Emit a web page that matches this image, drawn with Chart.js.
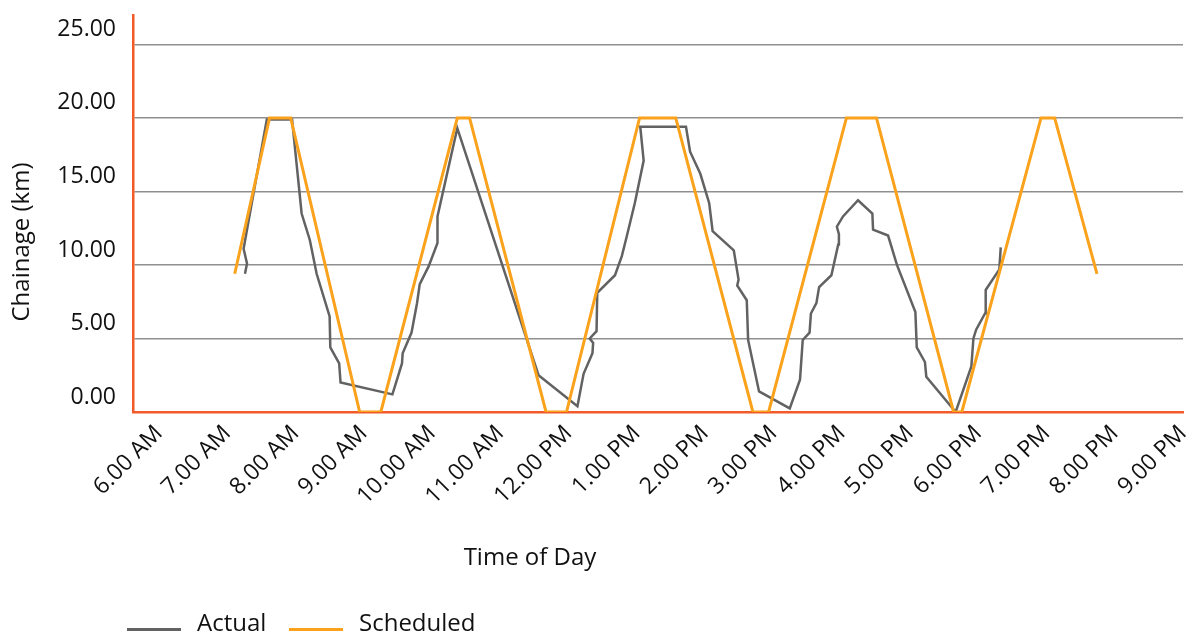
<!DOCTYPE html>
<html lang="en">
<head>
    <meta charset="UTF-8">
    <title>Chainage vs Time of Day</title>
    <script src="https://cdn.jsdelivr.net/npm/chart.js"></script>
    <style>
        body { margin: 0; background: #fff; }
    </style>
</head>
<body>
    <canvas id="chainageChart" width="1187" height="632"></canvas>

    <script>
        // Hour ticks along the x axis and their labels
        const tickHours = [6, 7, 8, 9, 10, 11, 12, 13, 14, 15, 16, 17, 18, 19, 20, 21];
        const tickLabels = ['6.00 AM', '7.00 AM', '8.00 AM', '9.00 AM', '10.00 AM', '11.00 AM', '12.00 PM',
            '1.00 PM', '2.00 PM', '3.00 PM', '4.00 PM', '5.00 PM', '6.00 PM', '7.00 PM', '8.00 PM', '9.00 PM'];
        const chainageTicks = [0, 5, 10, 15, 20, 25];

        // Scheduled run (time in decimal hours, chainage in km)
        const scheduledTime = [7.11, 7.62, 7.93, 8.94, 9.25, 10.37, 10.55, 11.67, 11.97, 13.04, 13.57,
            14.70, 14.93, 16.07, 16.51, 17.64, 17.76, 18.92, 19.12, 19.74];
        const scheduledKm = [9.4, 20, 20, 0, 0, 20, 20, 0, 0, 20, 20, 0, 0, 20, 20, 0, 0, 20, 20, 9.4];

        // Actual run as logged
        const actualTime = [7.26, 7.29, 7.24, 7.58, 7.95, 8.09, 8.21, 8.31, 8.50, 8.51, 8.64, 8.66,
            9.42, 9.56, 9.57, 9.70, 9.78, 9.82, 9.95, 10.08, 10.08, 10.37, 11.56, 12.13,
            12.22, 12.35, 12.36, 12.31, 12.41, 12.42, 12.68, 12.78, 12.85, 12.97, 13.10, 13.05,
            13.72, 13.78, 13.93, 14.06, 14.11, 14.42, 14.49, 14.47, 14.61, 14.63, 14.79, 15.24,
            15.39, 15.43, 15.53, 15.55, 15.63, 15.67, 15.85, 15.95, 15.96, 15.93, 16.02, 16.24,
            16.45, 16.46, 16.68, 16.81, 17.08, 17.10, 17.22, 17.24, 17.67, 17.90, 17.93, 17.97,
            18.10, 18.11, 18.31, 18.33];
        const actualKm = [9.4, 10.1, 11.1, 19.9, 19.9, 13.5, 11.7, 9.4, 6.5, 4.4, 3.3, 2.0,
            1.2, 3.3, 4.0, 5.4, 7.4, 8.7, 9.9, 11.5, 13.3, 19.3, 2.5, 0.4,
            2.6, 4.0, 4.7, 5.0, 5.5, 8.1, 9.3, 10.6, 11.9, 14.2, 17.1, 19.4,
            19.4, 17.7, 16.2, 14.2, 12.3, 11.0, 9.0, 8.6, 7.6, 4.9, 1.4, 0.25,
            2.2, 4.9, 5.4, 6.7, 7.4, 8.5, 9.3, 11.4, 12.1, 12.6, 13.3, 14.4,
            13.5, 12.4, 12.0, 10.0, 6.8, 4.4, 3.4, 2.4, 0.0, 3.1, 5.0, 5.6,
            6.7, 8.3, 9.7, 11.2];

        const toPoints = (xs, ys) => xs.map((x, i) => ({ x: x, y: ys[i] }));

        const FONT = '"Open Sans", "Noto Sans", sans-serif';
        const AXIS_ORANGE = '#f15a29';

        // Axis titles and legend sit off-centre, so they are painted here
        const titlesAndLegend = {
            id: 'titlesAndLegend',
            afterDraw(chart) {
                const ctx = chart.ctx;
                ctx.save();
                ctx.fillStyle = '#111';
                ctx.font = '24px ' + FONT;
                ctx.textAlign = 'center';
                ctx.textBaseline = 'middle';
                ctx.fillText('Time of Day', 530, 558);

                ctx.save();
                ctx.translate(22, 242);
                ctx.rotate(-Math.PI / 2);
                ctx.fillText('Chainage (km)', 0, 0);
                ctx.restore();

                // legend: short line sample followed by the label
                const legendX = [127, 289];
                chart.data.datasets.forEach((ds, i) => {
                    const x = legendX[i];
                    ctx.strokeStyle = ds.borderColor;
                    ctx.lineWidth = 3;
                    ctx.beginPath();
                    ctx.moveTo(x, 629.5);
                    ctx.lineTo(x + 54, 629.5);
                    ctx.stroke();
                    ctx.textAlign = 'left';
                    ctx.textBaseline = 'alphabetic';
                    ctx.fillText(ds.label, x + 70, 631);
                });
                ctx.restore();
            }
        };

        // keep the plot box fixed: no extra room for overhanging labels
        function noOverhang(scale) {
            scale.paddingLeft = 0;
            scale.paddingRight = 0;
            scale.paddingTop = 0;
            scale.paddingBottom = 0;
        }

        const ctx = document.getElementById('chainageChart').getContext('2d');
        new Chart(ctx, {
            type: 'line',
            data: {
                datasets: [{
                    label: 'Actual',
                    data: toPoints(actualTime, actualKm),
                    borderColor: '#626262',
                    backgroundColor: '#626262',
                    borderWidth: 2.5,
                    pointRadius: 0,
                    tension: 0,
                    order: 2
                }, {
                    label: 'Scheduled',
                    data: toPoints(scheduledTime, scheduledKm),
                    borderColor: '#faa21b',
                    backgroundColor: '#faa21b',
                    borderWidth: 3,
                    pointRadius: 0,
                    tension: 0,
                    order: 1
                }]
            },
            options: {
                responsive: false,
                animation: false,
                devicePixelRatio: 1,
                layout: { padding: { left: 0, right: 4, top: 15, bottom: 0 } },
                plugins: {
                    legend: { display: false },
                    tooltip: { enabled: false }
                },
                scales: {
                    x: {
                        type: 'linear',
                        min: 5.62,
                        max: 21,
                        afterBuildTicks: scale => { scale.ticks = tickHours.map(h => ({ value: h })); },
                        afterFit: scale => { scale.height = 220; noOverhang(scale); },
                        grid: { display: false, drawTicks: false },
                        border: { display: true, color: AXIS_ORANGE, width: 2.5 },
                        ticks: {
                            autoSkip: false,
                            minRotation: 45,
                            maxRotation: 45,
                            padding: 8,
                            color: '#111',
                            font: { family: FONT, size: 23 },
                            callback: (value, i) => tickLabels[i]
                        }
                    },
                    y: {
                        min: 0,
                        max: 27,
                        afterBuildTicks: scale => { scale.ticks = chainageTicks.map(v => ({ value: v })); },
                        afterFit: scale => { scale.width = 133; noOverhang(scale); },
                        grid: { color: '#8f8f8f', lineWidth: 1.5, drawTicks: false },
                        border: { display: true, color: AXIS_ORANGE, width: 2.5 },
                        ticks: {
                            padding: 17,
                            labelOffset: -15,
                            color: '#111',
                            font: { family: FONT, size: 23 },
                            callback: value => value.toFixed(2)
                        }
                    }
                }
            },
            plugins: [titlesAndLegend]
        });
    </script>
</body>
</html>
